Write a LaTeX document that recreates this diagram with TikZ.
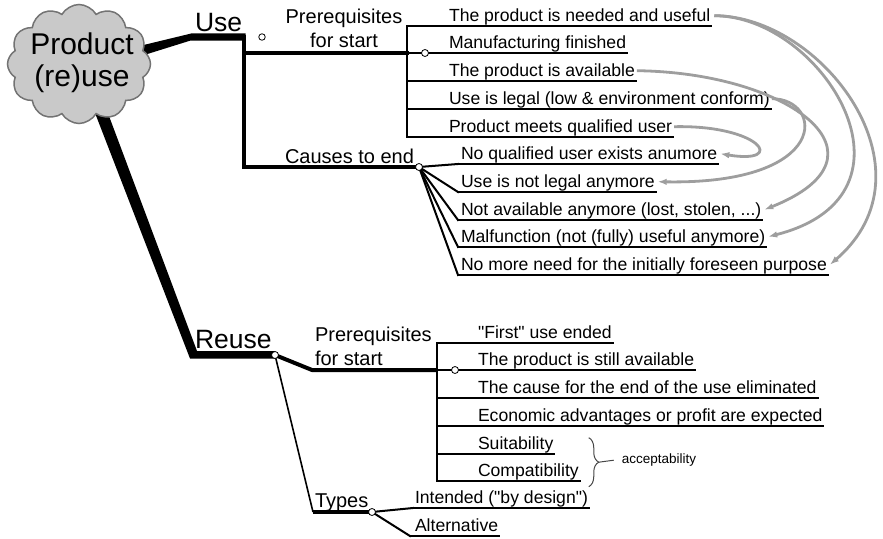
\documentclass[tikz,border=0pt]{standalone}
\usepackage{fontspec}
\setmainfont{Liberation Sans}[Ligatures=TeXOff]
\usetikzlibrary{shapes.symbols,arrows.meta,decorations.pathreplacing,calc}
\definecolor{cloudfill}{RGB}{201,201,201}
\definecolor{cloudedge}{RGB}{115,115,115}
\definecolor{linkgray}{RGB}{158,158,158}
\definecolor{bracegray}{RGB}{70,70,70}

\begin{document}
\begin{tikzpicture}[x=1pt,y=-1pt,
  every node/.style={inner sep=0pt,outer sep=0pt},
  topic/.style={anchor=base west,font=\fontsize{26.5}{30}\selectfont},
  group/.style={font=\fontsize{20}{24}\selectfont},
  item/.style={anchor=base west,font=\fontsize{17.6}{21}\selectfont},
  note/.style={anchor=west,font=\fontsize{13.5}{16}\selectfont},
  uline/.style={line width=2pt,line cap=rect},
  stem/.style={line width=3.5pt,line cap=rect},
  thinstem/.style={line width=1.6pt},
  knot/.style={circle,draw,line width=0.8pt,fill=white,minimum size=7pt},
  link/.style={draw=linkgray,line width=2.8pt,-{Latex[length=9pt,width=6.5pt]}},
  bracestyle/.style={draw=bracegray,line width=1pt},
]
\useasboundingbox (0,0) rectangle (883,538);

% ---- trunks leaving the central cloud
\fill (125,49.5) -- (192,33.3) -- (245.5,33.3) -- (245.5,40.7) -- (190,40.7) -- (125,61) -- cycle;
\fill (90,100) -- (103,100) -- (197,351) -- (275,351) -- (275,358.5) -- (190,358.5) -- cycle;

% ---- central topic
\node[cloud,cloud puffs=12,cloud puff arc=120,aspect=1.2,draw=cloudedge,line width=1.5pt,
      fill=cloudfill,minimum width=143pt,minimum height=119pt] (root) at (79,64) {};
\node[align=center,font=\fontsize{30}{32}\selectfont] (roottext) at ($(root.center)+(3,-1)$) {Product\\(re)use};

\node[topic] (use) at (195,31) {Use};
\node[topic] (reuse) at (195,348) {Reuse};

% ================= Use =================
\coordinate (usecorner) at (244,37);
\coordinate (usepre) at (244,53);
\coordinate (usecause) at (244,167);
\coordinate (cj) at (419,167);
\node[knot,minimum size=6.5pt] (useknot) at (262,37) {};

\node[group,anchor=north,align=center] (upre) at (344,9.5) {Prerequisites\\for start};
\node[item] (up1) at (449,21.7) {The product is needed and useful};
\node[item] (up2) at (449,48.7) {Manufacturing finished};
\node[item] (up3) at (449,76.7) {The product is available};
\node[item] (up4) at (449,104.7) {Use is legal (low \& environment conform)};
\node[item] (up5) at (449,132.7) {Product meets qualified user};
\foreach \i in {1,...,5}
  \draw[uline] ($(up\i.base west)+(-42,4.3)$) -- ($(up\i.base east)+(1,4.3)$);
\draw[uline] ($(up1.base west)+(-42,4.3)$) -- ($(up5.base west)+(-42,4.3)$);
\coordinate (upbr) at ($(up2.base west)+(-42,4.3)$);
\draw[stem] (usecorner) -- (usecause) -- (cj);
\draw[stem] (usepre) -- (upbr);
\node[knot] (upknot) at ($(up2.base west)+(-24,4.3)$) {};

\node[group,anchor=base west] (cause) at (285,163) {Causes to end};
\node[item] (c1) at (461,159.7) {No qualified user exists anumore};
\node[item] (c2) at (461,187.7) {Use is not legal anymore};
\node[item] (c3) at (461,215.7) {Not available anymore (lost, stolen, ...)};
\node[item] (c4) at (461,242.7) {Malfunction (not (fully) useful anymore)};
\node[item] (c5) at (461,270.7) {No more need for the initially foreseen purpose};
\foreach \i in {1,...,5}{
  \draw[uline] ($(c\i.base west)+(-3,4.3)$) -- ($(c\i.base east)+(1,4.3)$);
  \draw[uline] (cj) -- ($(c\i.base west)+(-3,4.3)$);
}
\node[knot] (cknot) at (cj) {};

% ---- which start condition ends the use
\draw[link] ($(up1.base east)+(4,-6)$) .. controls +(108,0) and ($(c5.base east)+(112,-100)$) .. ($(c5.base east)+(3,-6)$);
\draw[link] ($(up1.base east)+(4,-6)$) .. controls +(108,0) and ($(c4.base east)+(168,-48)$) .. ($(c4.base east)+(3,-6)$);
\draw[link] ($(up3.base east)+(2,-6)$) .. controls +(153,2) and ($(c3.base east)+(138,-60)$) .. ($(c3.base east)+(3,-6)$);
\draw[link] ($(up4.base east)+(2,-6)$) .. controls +(52,0) and ($(c2.base east)+(177,-3)$) .. ($(c2.base east)+(3,-6)$);
\draw[link] ($(up5.base east)+(2,-6)$) .. controls +(87,-2) and ($(c1.base east)+(70,5)$) .. ($(c1.base east)+(3,-6)$);

% ================= Reuse =================
\coordinate (rj) at (275,355);
\coordinate (rbend) at (312,370);
\coordinate (tcorner) at (313,512);
\coordinate (tj) at (372,512);

\node[group,anchor=north west,align=left] (rpre) at (315,327.5) {Prerequisites\\for start};
\node[item] (r1) at (478,338.7) {"First" use ended};
\node[item] (r2) at (478,365.7) {The product is still available};
\node[item] (r3) at (478,393.7) {The cause for the end of the use eliminated};
\node[item] (r4) at (478,421.7) {Economic advantages or profit are expected};
\node[item] (r5) at (478,449.7) {Suitability};
\node[item] (r6) at (478,476.7) {Compatibility};
\foreach \i in {1,...,6}
  \draw[uline] ($(r\i.base west)+(-41,4.3)$) -- ($(r\i.base east)+(1,4.3)$);
\draw[uline] ($(r1.base west)+(-41,4.3)$) -- ($(r6.base west)+(-41,4.3)$);
\coordinate (rbr) at ($(r2.base west)+(-41,4.3)$);
\draw[line width=4pt,line join=round] (rj) -- (rbend) -- (rbr);
\node[knot] (rpknot) at ($(r2.base west)+(-23,4.3)$) {};

% acceptability brace
\coordinate (btop) at ($(r6.base east)+(10,-39)$);
\coordinate (bbot) at ($(r6.base east)+(10,10)$);
\coordinate (btip) at ($(btop)!0.5!(bbot)+(10,0)$);
\draw[bracestyle,decorate,decoration={brace,amplitude=10pt}] (btop) -- (bbot);
\node[note] (acc) at ($(btip)+(23,-2)$) {acceptability};
\draw[bracestyle] (btip) -- ($(acc.west)+(-8,0)$);

% types
\node[group,anchor=base west] (types) at (315,507) {Types};
\node[item] (t1) at (415,503.7) {Intended ("by design")};
\node[item] (t2) at (415,531.7) {Alternative};
\draw[uline] ($(t1.base west)+(-2,4.3)$) -- ($(t1.base east)+(1,4.3)$);
\draw[uline] ($(t2.base west)+(-5,4.3)$) -- ($(t2.base east)+(1,4.3)$);
\draw[thinstem] (rj) -- (tcorner);
\draw[line width=3.5pt] (tcorner) -- (tj);
\draw[uline] (tj) -- ($(t1.base west)+(-2,4.3)$);
\draw[uline] (tj) -- ($(t2.base west)+(-5,4.3)$);
\node[knot] (tknot) at (tj) {};
\node[knot] (rknot) at (rj) {};

\end{tikzpicture}
\end{document}
